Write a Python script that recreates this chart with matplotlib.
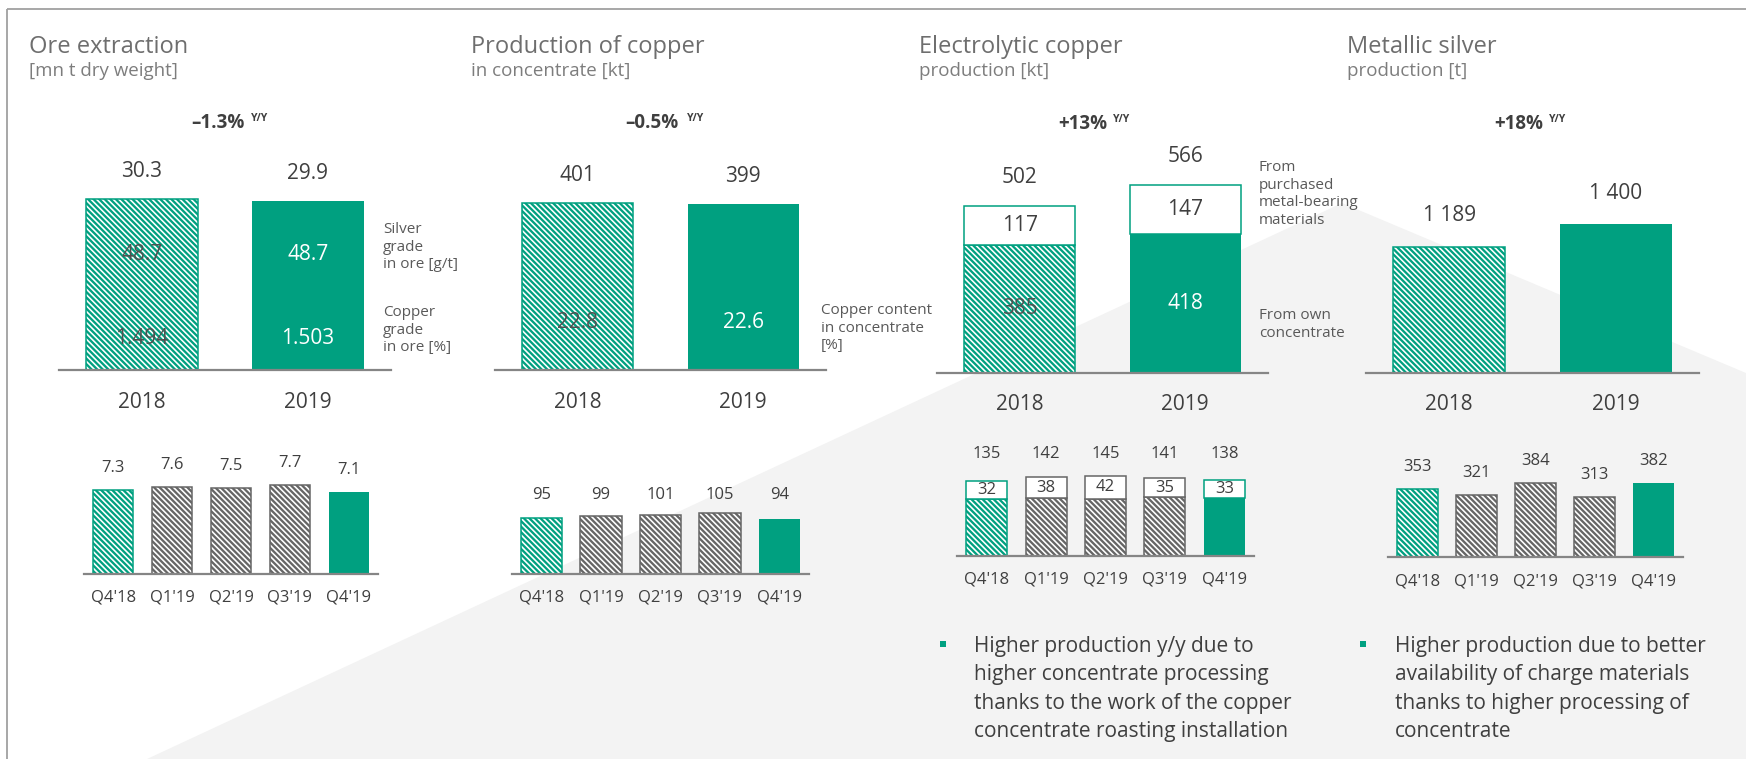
import matplotlib
matplotlib.use("Agg")
import matplotlib.pyplot as plt
from matplotlib.patches import Polygon, Rectangle

plt.rcParams["font.family"] = ["Open Sans", "DejaVu Sans"]
plt.rcParams["hatch.linewidth"] = 1.65

# ---------------------------------------------------------------- data
years = ["2018", "2019"]
quarters = ["Q4'18", "Q1'19", "Q2'19", "Q3'19", "Q4'19"]

ore_annual = [30.3, 29.9]            # mn t dry weight
silver_grade = [48.7, 48.7]          # g/t
copper_grade = [1.494, 1.503]        # %
ore_quarterly = [7.3, 7.6, 7.5, 7.7, 7.1]

cu_conc_annual = [401, 399]          # kt
cu_content = [22.8, 22.6]            # %
cu_conc_quarterly = [95, 99, 101, 105, 94]

electro_own = [385, 418]             # kt, from own concentrate
electro_purchased = [117, 147]       # kt, from purchased materials
electro_total = [502, 566]
electro_q_total = [135, 142, 145, 141, 138]
electro_q_purchased = [32, 38, 42, 35, 33]

silver_annual = [1189, 1400]         # t
silver_quarterly = [353, 321, 384, 313, 382]

yoy = ["\u20131.3%", "\u20130.5%", "+13%", "+18%"]

# ---------------------------------------------------------------- style
W, H, DPI = 1746, 759, 100
GREEN = "#00a080"
GREY = "#666666"
BASE = "#858585"
TXT = "#3f3f3f"
HATCH = "\\" * 6

ANNUAL_STYLE = [("hatch", GREEN), ("solid", GREEN)]
QUARTER_STYLE = [("hatch", GREEN), ("hatch", GREY), ("hatch", GREY),
                 ("hatch", GREY), ("solid", GREEN)]

fig = plt.figure(figsize=(W / DPI, H / DPI), dpi=DPI)

# background layer in pixel units (y pointing down)
bg = fig.add_axes([0, 0, 1, 1])
bg.set_xlim(0, W)
bg.set_ylim(H, 0)
bg.axis("off")
bg.add_patch(Polygon([(147, H), (1342, 203), (W, 373), (W, H)],
                     closed=True, fc="#f3f3f3", ec="none", zorder=0))
bg.plot([7, W], [9, 9], color="#a0a0a0", lw=1.3, solid_capstyle="butt")
bg.plot([7, 7], [9, H], color="#a0a0a0", lw=1.3, solid_capstyle="butt")


def chart_axes(x0, x1, base, ppu, top, n):
    """Axes whose bottom spine is the baseline; ppu = pixels per data unit."""
    ax = fig.add_axes([x0 / W, (H - base) / H, (x1 - x0) / W, ppu * top / H])
    ax.set_xlim(-0.5, n - 0.5)
    ax.set_ylim(0, top)
    ax.patch.set_alpha(0)
    for s in ("top", "left", "right"):
        ax.spines[s].set_visible(False)
    ax.spines["bottom"].set_color(BASE)
    ax.spines["bottom"].set_linewidth(1.6)
    ax.set_xticks([])
    ax.set_yticks([])
    return ax


def draw_bar(ax, i, h, width, kind, tone, bottom=0):
    if kind == "hatch":
        ax.bar(i, h, width, bottom=bottom, color="white", edgecolor=tone,
               hatch=HATCH, linewidth=1.1)
    elif kind == "open":
        ax.bar(i, h, width, bottom=bottom, color="white", edgecolor=tone,
               linewidth=1.1)
    else:
        ax.bar(i, h, width, bottom=bottom, color=tone, edgecolor=tone,
               linewidth=0)


def label(ax, x, y, text, dy, size, color=TXT, **kw):
    ax.annotate(text, (x, y), xytext=(0, dy), textcoords="offset pixels",
                ha="center", va="center", fontsize=size, color=color,
                annotation_clip=False, **kw)


def categories(ax, names, dy, size):
    for i, name in enumerate(names):
        ax.annotate(name, (i, 0), xycoords=ax.get_xaxis_transform(),
                    xytext=(0, -dy), textcoords="offset pixels",
                    ha="center", va="center", fontsize=size, color=TXT,
                    annotation_clip=False)


def fmt_int(v):
    return f"{v:,}".replace(",", " ")


MAIN_FS = 15
Q_FS = 12
INNER_HATCH = "#505050"

# ---------------------------------------------------------------- annual charts
# Ore extraction
ax = chart_axes(59, 391, 370, 5.64, 40, 2)
for i, v in enumerate(ore_annual):
    kind, tone = ANNUAL_STYLE[i]
    draw_bar(ax, i, v, 0.675, kind, tone)
    label(ax, i, v, f"{v:.1f}", 28, MAIN_FS)
    inner = INNER_HATCH if kind == "hatch" else "white"
    label(ax, i, 0, f"{silver_grade[i]:.1f}", 115, MAIN_FS, inner)
    label(ax, i, 0, f"{copper_grade[i]:.3f}", 32, MAIN_FS, inner)
categories(ax, years, 32, MAIN_FS)

# Copper in concentrate
ax = chart_axes(495, 826, 370, 0.4165, 500, 2)
for i, v in enumerate(cu_conc_annual):
    kind, tone = ANNUAL_STYLE[i]
    draw_bar(ax, i, v, 0.67, kind, tone)
    label(ax, i, v, fmt_int(v), 27, MAIN_FS)
    inner = INNER_HATCH if kind == "hatch" else "white"
    label(ax, i, 0, f"{cu_content[i]:.1f}", 47, MAIN_FS, inner)
categories(ax, years, 32, MAIN_FS)

# Electrolytic copper
ax = chart_axes(937, 1268, 373, 0.333, 650, 2)
for i in range(2):
    kind, tone = ANNUAL_STYLE[i]
    own, bought = electro_own[i], electro_purchased[i]
    draw_bar(ax, i, own, 0.67, kind, tone)
    draw_bar(ax, i, bought, 0.67, "open", tone, bottom=own)
    inner = INNER_HATCH if kind == "hatch" else "white"
    label(ax, i, own / 2, fmt_int(own), 0, MAIN_FS, inner)
    label(ax, i, own + bought / 2, fmt_int(bought), 0, MAIN_FS)
    label(ax, i, electro_total[i], fmt_int(electro_total[i]), 28, MAIN_FS)
categories(ax, years, 32, MAIN_FS)

# Metallic silver
ax = chart_axes(1366, 1699, 373, 0.1062, 1700, 2)
for i, v in enumerate(silver_annual):
    kind, tone = ANNUAL_STYLE[i]
    draw_bar(ax, i, v, 0.675, kind, tone)
    label(ax, i, v, fmt_int(v), 31, MAIN_FS)
categories(ax, years, 32, MAIN_FS)

# ---------------------------------------------------------------- quarterly charts
ax = chart_axes(84, 378, 574, 11.5, 10, 5)
for i, v in enumerate(ore_quarterly):
    kind, tone = QUARTER_STYLE[i]
    draw_bar(ax, i, v, 0.68, kind, tone)
    label(ax, i, v, f"{v:.1f}", 22, Q_FS)
categories(ax, quarters, 24, Q_FS)

ax = chart_axes(512, 809, 574, 0.585, 140, 5)
for i, v in enumerate(cu_conc_quarterly):
    kind, tone = QUARTER_STYLE[i]
    draw_bar(ax, i, v, 0.70, kind, tone)
    label(ax, i, 0, fmt_int(v), 79, Q_FS)
categories(ax, quarters, 24, Q_FS)

ax = chart_axes(957, 1254, 556, 0.553, 200, 5)
for i, total in enumerate(electro_q_total):
    kind, tone = QUARTER_STYLE[i]
    bought = electro_q_purchased[i]
    own = total - bought
    draw_bar(ax, i, own, 0.69, kind, tone)
    draw_bar(ax, i, bought, 0.69, "open", tone, bottom=own)
    label(ax, i, own + bought / 2, fmt_int(bought), 0, Q_FS)
    label(ax, i, 0, fmt_int(total), 102, Q_FS)
categories(ax, quarters, 24, Q_FS)

ax = chart_axes(1388, 1683, 557, 0.193, 500, 5)
for i, v in enumerate(silver_quarterly):
    kind, tone = QUARTER_STYLE[i]
    draw_bar(ax, i, v, 0.68, kind, tone)
    label(ax, i, v, fmt_int(v), 22, Q_FS)
categories(ax, quarters, 24, Q_FS)

# ---------------------------------------------------------------- titles
TITLE_C = "#6e6e6e"
SUB_C = "#7d7d7d"
titles = [
    (29, "Ore extraction", "[mn t dry weight]"),
    (471, "Production of copper", "in concentrate [kt]"),
    (919, "Electrolytic copper", "production [kt]"),
    (1347, "Metallic silver", "production [t]"),
]
for x, head, sub in titles:
    bg.text(x, 53, head, fontsize=17, color=TITLE_C, va="baseline", ha="left")
    bg.text(x, 75.5, sub, fontsize=13.5, color=SUB_C, va="baseline", ha="left")

# y/y change above each pair of annual bars
yoy_pos = [(245, 251, 128), (679, 687, 128), (1107, 1113, 129), (1543, 1549, 129)]
for text, (xr, xs, yb) in zip(yoy, yoy_pos):
    bg.text(xr, yb, text, fontsize=13.5, fontweight="bold", color=TXT,
            ha="right", va="baseline")
    bg.text(xs, yb - 7, "Y/Y", fontsize=7.5, fontweight="bold", color=TXT,
            ha="left", va="baseline")

# side notes
SIDE_C = "#595959"
side_notes = [
    (383, 233, ["Silver", "grade", "in ore [g/t]"]),
    (383, 316, ["Copper", "grade", "in ore [%]"]),
    (821, 314, ["Copper content", "in concentrate", "[%]"]),
    (1259, 171, ["From", "purchased", "metal-bearing", "materials"]),
    (1259, 319, ["From own", "concentrate"]),
]
for x, y0, rows in side_notes:
    for k, row in enumerate(rows):
        bg.text(x, y0 + 17.6 * k, row, fontsize=11, color=SIDE_C,
                ha="left", va="baseline")

# commentary bullets
bullets = [
    (943, 974, ["Higher production y/y due to",
                "higher concentrate processing",
                "thanks to the work of the copper",
                "concentrate roasting installation"]),
    (1363, 1395, ["Higher production due to better",
                  "availability of charge materials",
                  "thanks to higher processing of",
                  "concentrate"]),
]
for xb, xt, rows in bullets:
    bg.add_patch(Rectangle((xb - 3, 640.5), 6, 6, fc=GREEN, ec="none"))
    for k, row in enumerate(rows):
        bg.text(xt, 652 + 28.3 * k, row, fontsize=15, color=TXT,
                ha="left", va="baseline")

fig.savefig("out.png", dpi=DPI)
